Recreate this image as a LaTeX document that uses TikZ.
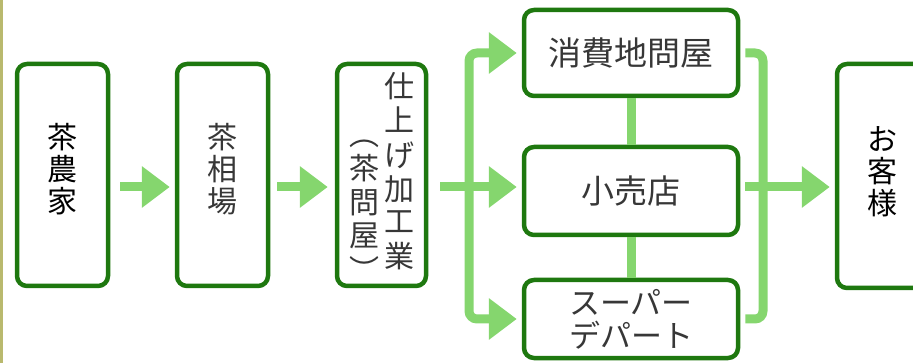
\documentclass[tikz,border=0pt]{standalone}
\usepackage{xcolor}
\usepackage{fontspec}
\usetikzlibrary{arrows.meta}
\newfontfamily\jp{Noto Sans CJK JP}
\definecolor{boxgreen}{RGB}{30,120,15}
\definecolor{flowgreen}{RGB}{133,214,110}
\definecolor{edgeolive}{RGB}{185,185,110}
\definecolor{txtgray}{RGB}{55,55,55}

\begin{document}
\begin{tikzpicture}[x=1pt, y=-1pt,
			>={Triangle[length=28pt, width=40pt]},
			stage/.style={draw=boxgreen, line width=4.5pt, rounded corners=10pt, fill=white,
				inner sep=0pt, align=center, text=txtgray, font=\jp\fontsize{30}{32}\selectfont},
			wide/.style={stage, minimum width=214pt, font=\jp\fontsize{33}{34}\selectfont},
			flow/.style={draw=flowgreen, line width=9pt},
			flowarrow/.style={flow, ->, shorten >=5pt}]
			
			\useasboundingbox (0,0) rectangle (913,363);
			\draw[edgeolive, line width=2.5pt] (1.25,0) -- (1.25,363);
			
			\node[stage, text=black, text depth=14pt, minimum width=91pt, minimum height=222pt] (farmer) at (62.5,175) {茶\\農\\家};
			\node[stage, text depth=14pt, minimum width=91pt, minimum height=222pt] (market) at (222.5,175) {茶\\相\\場};
			\node[stage, minimum width=89pt, minimum height=222pt] (finisher) at (381.5,175)
				{\raisebox{-38pt}[0pt][0pt]{\begin{tabular}{@{}c@{}}︵\\茶\\問\\屋\\︶\end{tabular}}\hspace{5pt}%
				\raisebox{-6pt}[0pt][0pt]{\begin{tabular}{@{}c@{}}仕\\上\\げ\\加\\工\\業\end{tabular}}};
			\node[wide, minimum height=86pt] (wholesale) at (631,53) {消費地問屋};
			\node[wide, minimum height=88pt] (retail) at (631,191) {小売店};
			\node[wide, minimum height=78pt, font=\jp\fontsize{31}{33}\selectfont] (super) at (631,319) {スーパー\\デパート};
			\node[stage, text=black, text depth=10pt, minimum width=90pt, minimum height=224pt] (customer) at (882,176) {お\\客\\様};
			
			\coordinate (split) at (469,187);
			\coordinate (join) at (763,187);
			
			\draw[flowarrow, shorten <=10pt] (farmer.east |- split) -- (market.west |- split);
			\draw[flowarrow, shorten <=7pt, shorten >=7pt] (market.east |- split) -- (finisher.west |- split);
			\draw[flow, shorten <=12pt] (finisher.east |- split) -- (split);
			\draw[flowarrow, rounded corners=8pt] (split) |- (wholesale.west);
			\draw[flowarrow] (split) -- (retail.west |- split);
			\draw[flowarrow, rounded corners=8pt] (split) |- (super.west);
			
			\draw[flow] (wholesale) -- (retail);
			\draw[flow] (retail) -- (super);
			
			\draw[flow, rounded corners=8pt, shorten <=5pt] (wholesale.east) -| (join);
			\draw[flow, rounded corners=8pt, shorten <=5pt] (super.east) -| (join);
			\draw[flow, shorten <=5pt] (retail.east |- join) -- (join);
			\draw[flowarrow] (join) -- (customer.west |- join);
		\end{tikzpicture}
\end{document}
